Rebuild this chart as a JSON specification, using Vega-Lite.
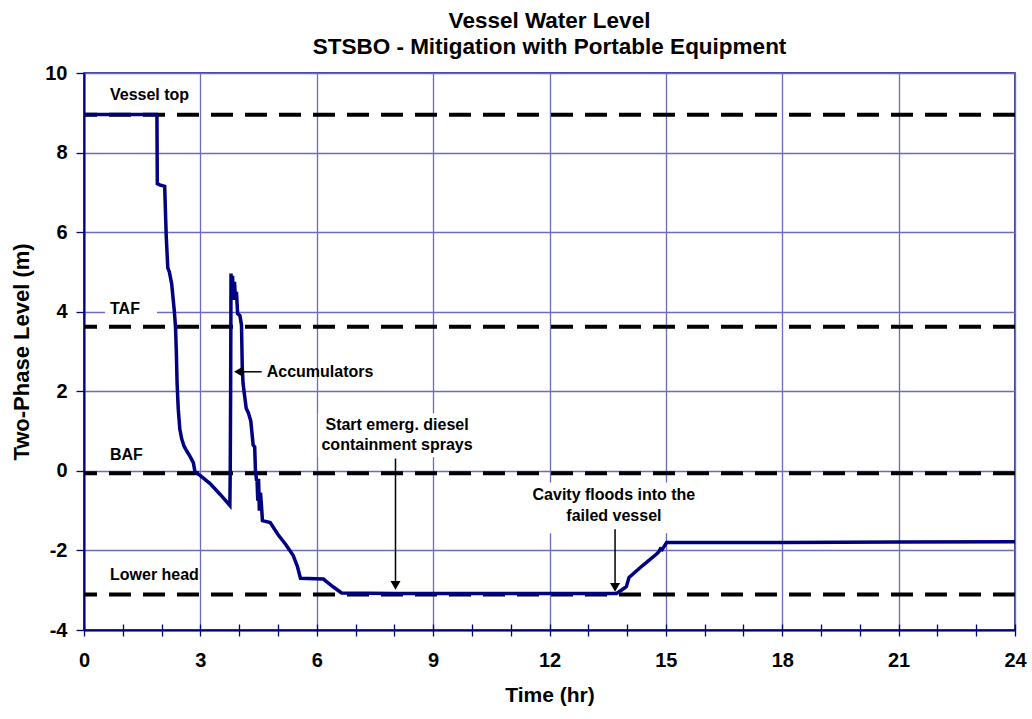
{
  "$schema": "https://vega.github.io/schema/vega-lite/v6.json",
  "autosize": {"type": "none"},
  "padding": {"left": 84, "top": 73, "right": 17, "bottom": 89},
  "width": 931,
  "height": 557,
  "background": "white",
  "config": {
    "font": "Liberation Sans",
    "view": {"stroke": "#000080", "strokeWidth": 1.5}
  },
  "title": {
    "text": ["Vessel Water Level", "STSBO - Mitigation with Portable Equipment"],
    "font": "Liberation Sans",
    "fontSize": 22.5,
    "fontWeight": "bold",
    "color": "black",
    "anchor": "middle",
    "lineHeight": 26,
    "offset": 5
  },
  "datasets": {
    "level": [
      {"t": 0, "lvl": 8.96}, {"t": 1.87, "lvl": 8.96}, {"t": 1.88, "lvl": 8.9}, {"t": 1.89, "lvl": 7.22},
      {"t": 1.95, "lvl": 7.19}, {"t": 2.08, "lvl": 7.15}, {"t": 2.1, "lvl": 6.5}, {"t": 2.12, "lvl": 5.9},
      {"t": 2.16, "lvl": 5.1}, {"t": 2.2, "lvl": 5.0}, {"t": 2.26, "lvl": 4.7}, {"t": 2.33, "lvl": 4.0},
      {"t": 2.36, "lvl": 3.6}, {"t": 2.38, "lvl": 3.0}, {"t": 2.4, "lvl": 2.2}, {"t": 2.43, "lvl": 1.55},
      {"t": 2.47, "lvl": 1.05}, {"t": 2.52, "lvl": 0.8}, {"t": 2.58, "lvl": 0.62}, {"t": 2.66, "lvl": 0.48},
      {"t": 2.74, "lvl": 0.35}, {"t": 2.82, "lvl": 0.2}, {"t": 2.86, "lvl": -0.02}, {"t": 3.0, "lvl": -0.12},
      {"t": 3.25, "lvl": -0.32}, {"t": 3.5, "lvl": -0.58}, {"t": 3.76, "lvl": -0.87}, {"t": 3.77, "lvl": 0.0},
      {"t": 3.78, "lvl": 2.0}, {"t": 3.79, "lvl": 4.96}, {"t": 3.81, "lvl": 4.6}, {"t": 3.83, "lvl": 4.9},
      {"t": 3.85, "lvl": 4.3}, {"t": 3.88, "lvl": 4.75}, {"t": 3.9, "lvl": 4.4}, {"t": 3.93, "lvl": 4.5},
      {"t": 3.96, "lvl": 3.95}, {"t": 4.02, "lvl": 3.9}, {"t": 4.06, "lvl": 3.66}, {"t": 4.08, "lvl": 2.6},
      {"t": 4.1, "lvl": 2.2}, {"t": 4.18, "lvl": 1.58}, {"t": 4.24, "lvl": 1.45}, {"t": 4.3, "lvl": 1.25},
      {"t": 4.36, "lvl": 0.65}, {"t": 4.4, "lvl": 0.6}, {"t": 4.42, "lvl": 0.0}, {"t": 4.45, "lvl": -0.25},
      {"t": 4.46, "lvl": -0.2}, {"t": 4.48, "lvl": -0.75}, {"t": 4.5, "lvl": -0.2}, {"t": 4.52, "lvl": -1.0},
      {"t": 4.55, "lvl": -0.55}, {"t": 4.58, "lvl": -0.95}, {"t": 4.6, "lvl": -1.25}, {"t": 4.8, "lvl": -1.3},
      {"t": 5.0, "lvl": -1.6}, {"t": 5.2, "lvl": -1.85}, {"t": 5.39, "lvl": -2.12}, {"t": 5.5, "lvl": -2.4},
      {"t": 5.58, "lvl": -2.7}, {"t": 6.17, "lvl": -2.72}, {"t": 6.3, "lvl": -2.82}, {"t": 6.43, "lvl": -2.92},
      {"t": 6.64, "lvl": -3.07}, {"t": 8, "lvl": -3.08}, {"t": 10, "lvl": -3.08}, {"t": 12, "lvl": -3.08},
      {"t": 13.73, "lvl": -3.08}, {"t": 13.85, "lvl": -3.0}, {"t": 13.98, "lvl": -2.91}, {"t": 14.05, "lvl": -2.68},
      {"t": 14.4, "lvl": -2.38}, {"t": 14.76, "lvl": -2.09}, {"t": 14.82, "lvl": -2.03}, {"t": 14.86, "lvl": -1.96},
      {"t": 14.9, "lvl": -1.98}, {"t": 15.02, "lvl": -1.8}, {"t": 18, "lvl": -1.8}, {"t": 21, "lvl": -1.79},
      {"t": 24, "lvl": -1.78}
    ],
    "refs": [
      {"name": "Vessel top", "lvl": 8.95},
      {"name": "TAF", "lvl": 3.62},
      {"name": "BAF", "lvl": -0.06},
      {"name": "Lower head", "lvl": -3.11}
    ],
    "boxes": [
      {"t0": 0.54, "t1": 1.88, "m0": 3.73, "m1": 4.34},
      {"t0": 6.03, "t1": 10.1, "m0": 0.34, "m1": 1.45},
      {"t0": 11.44, "t1": 15.88, "m0": -1.57, "m1": -0.29}
    ],
    "leftLabels": [
      {"t": 0.67, "lvl": 9.45, "label": "Vessel top"},
      {"t": 0.67, "lvl": 4.07, "label": "TAF"},
      {"t": 0.67, "lvl": 0.41, "label": "BAF"},
      {"t": 0.67, "lvl": -2.62, "label": "Lower head"},
      {"t": 4.71, "lvl": 2.49, "label": "Accumulators"}
    ],
    "centerLabels": [
      {"t": 8.07, "lvl": 1.15, "label": "Start emerg. diesel"},
      {"t": 8.07, "lvl": 0.64, "label": "containment sprays"},
      {"t": 13.66, "lvl": -0.6, "label": "Cavity floods into the"},
      {"t": 13.66, "lvl": -1.14, "label": "failed vessel"}
    ],
    "arrows": [
      {"t0": 4.58, "t1": 3.95, "m0": 2.49, "m1": 2.49},
      {"t0": 8.03, "t1": 8.03, "m0": 0.31, "m1": -2.9},
      {"t0": 13.69, "t1": 13.69, "m0": -1.47, "m1": -2.95}
    ],
    "heads": [
      {"t": 3.98, "lvl": 2.49, "dir": "triangle-left"},
      {"t": 8.03, "lvl": -2.88, "dir": "triangle-down"},
      {"t": 13.69, "lvl": -2.93, "dir": "triangle-down"}
    ]
  },
  "resolve": {"axis": {"x": "independent"}},
  "layer": [
    {
      "data": {"name": "boxes"},
      "mark": {"type": "rect", "fill": "white"},
      "encoding": {
        "x": {
          "field": "t0", "type": "quantitative",
          "scale": {"domain": [0, 24], "nice": false, "zero": false},
          "axis": {
            "title": "Time (hr)",
            "orient": "bottom",
            "values": [0, 1, 2, 3, 4, 5, 6, 7, 8, 9, 10, 11, 12, 13, 14, 15, 16, 17, 18, 19, 20, 21, 22, 23, 24],
            "labelExpr": "datum.value % 3 === 0 ? '' + datum.value : ''",
            "labelFont": "Liberation Sans", "labelFontSize": 20, "labelFontWeight": "bold", "labelColor": "black",
            "labelPadding": 14, "labelFlush": false,
            "titleFont": "Liberation Sans", "titleFontSize": 21, "titleFontWeight": "bold", "titleColor": "black",
            "titlePadding": 14,
            "domainColor": "#000080", "domainWidth": 2,
            "tickColor": "#000080", "tickWidth": 1.3, "tickSize": 6,
            "grid": true,
            "gridColor": "#6b6bbf", "gridWidth": 1.3,
            "gridOpacity": {"condition": {"test": "datum.value % 3 === 0", "value": 1}, "value": 0}
          }
        },
        "x2": {"field": "t1"},
        "y": {
          "field": "m0", "type": "quantitative",
          "scale": {"domain": [-4, 10], "nice": false, "zero": false},
          "axis": {
            "title": "Two-Phase Level (m)",
            "values": [-4, -3, -2, -1, 0, 1, 2, 3, 4, 5, 6, 7, 8, 9, 10],
            "labelExpr": "datum.value % 2 === 0 ? '' + datum.value : ''",
            "labelFont": "Liberation Sans", "labelFontSize": 20, "labelFontWeight": "bold", "labelColor": "black",
            "labelPadding": 9,
            "titleFont": "Liberation Sans", "titleFontSize": 22, "titleFontWeight": "bold", "titleColor": "black",
            "titlePadding": 11,
            "domainColor": "#000080", "domainWidth": 2,
            "tickColor": "#000080", "tickWidth": 1.3,
            "tickSize": {"condition": {"test": "datum.value % 2 === 0", "value": 8}, "value": -6},
            "grid": true,
            "gridColor": "#6b6bbf", "gridWidth": 1.3,
            "gridOpacity": {"condition": {"test": "datum.value % 2 === 0", "value": 1}, "value": 0}
          }
        },
        "y2": {"field": "m1"}
      }
    },
    {
      "data": {"name": "refs"},
      "mark": {"type": "rule", "color": "black", "strokeWidth": 4, "strokeDash": [22, 12]},
      "encoding": {
        "y": {"field": "lvl", "type": "quantitative"}
      }
    },
    {
      "data": {"name": "level"},
      "mark": {"type": "line", "color": "#000080", "strokeWidth": 3.5, "clip": true},
      "encoding": {
        "x": {
          "field": "t", "type": "quantitative",
          "axis": {
            "orient": "bottom",
            "title": null,
            "labels": false,
            "domain": false,
            "grid": false,
            "values": [0, 1, 2, 3, 4, 5, 6, 7, 8, 9, 10, 11, 12, 13, 14, 15, 16, 17, 18, 19, 20, 21, 22, 23, 24],
            "tickColor": "#000080", "tickWidth": 1.3, "tickSize": -6
          }
        },
        "y": {"field": "lvl", "type": "quantitative"}
      }
    },
    {
      "data": {"name": "arrows"},
      "mark": {"type": "rule", "color": "black", "strokeWidth": 1.5},
      "encoding": {
        "x": {"field": "t0", "type": "quantitative", "axis": null},
        "x2": {"field": "t1"},
        "y": {"field": "m0", "type": "quantitative"},
        "y2": {"field": "m1"}
      }
    },
    {
      "data": {"name": "heads"},
      "mark": {"type": "point", "filled": true, "color": "black", "size": 100, "opacity": 1},
      "encoding": {
        "x": {"field": "t", "type": "quantitative", "axis": null},
        "y": {"field": "lvl", "type": "quantitative"},
        "shape": {"field": "dir", "type": "nominal", "scale": {"domain": ["triangle-left", "triangle-down"], "range": ["triangle-left", "triangle-down"]}, "legend": null}
      }
    },
    {
      "data": {"name": "leftLabels"},
      "mark": {"type": "text", "font": "Liberation Sans", "fontSize": 16, "fontWeight": "bold", "color": "black", "baseline": "middle", "align": "left"},
      "encoding": {
        "x": {"field": "t", "type": "quantitative", "axis": null},
        "y": {"field": "lvl", "type": "quantitative"},
        "text": {"field": "label"}
      }
    },
    {
      "data": {"name": "centerLabels"},
      "mark": {"type": "text", "font": "Liberation Sans", "fontSize": 16, "fontWeight": "bold", "color": "black", "baseline": "middle", "align": "center"},
      "encoding": {
        "x": {"field": "t", "type": "quantitative", "axis": null},
        "y": {"field": "lvl", "type": "quantitative"},
        "text": {"field": "label"}
      }
    }
  ]
}
